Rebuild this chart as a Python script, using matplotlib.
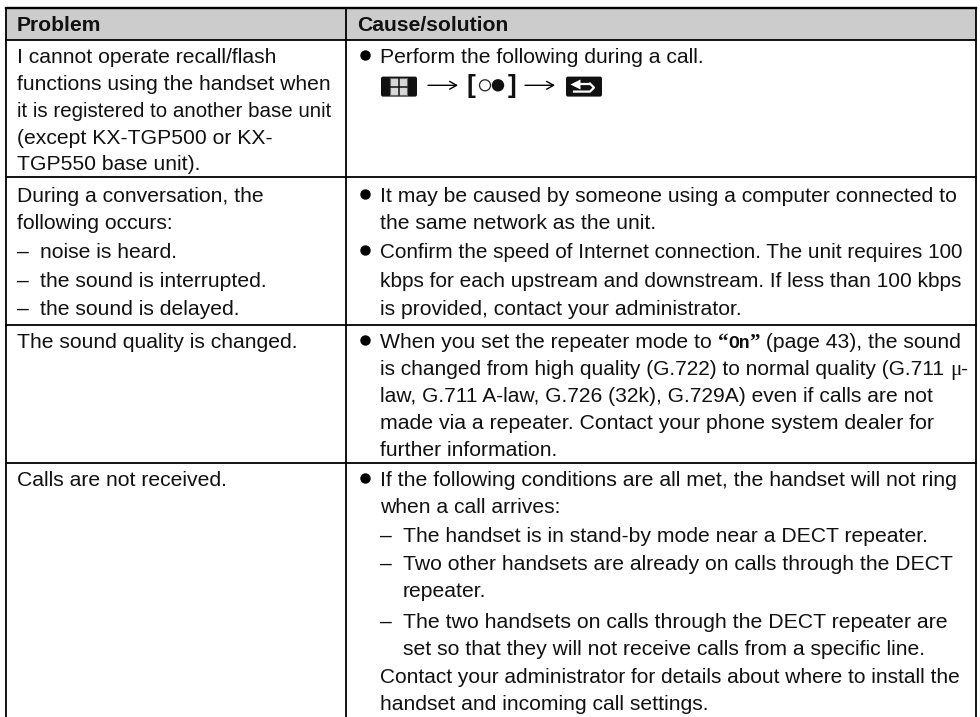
import matplotlib
matplotlib.use('Agg')
import matplotlib.pyplot as plt
from matplotlib.patches import Rectangle, FancyBboxPatch, Circle

FONT = 'Liberation Sans'
SIZE = 15.2

headers = ['Problem', 'Cause/solution']

# (dash?, text)
problem_lines = [
    [(False, 'I cannot operate recall/flash'), (False, 'functions using the handset when'),
     (False, 'it is registered to another base unit'), (False, '(except KX-TGP500 or KX-'),
     (False, 'TGP550 base unit).')],
    [(False, 'During a conversation, the'), (False, 'following occurs:'), (True, 'noise is heard.'),
     (True, 'the sound is interrupted.'), (True, 'the sound is delayed.')],
    [(False, 'The sound quality is changed.')],
    [(False, 'Calls are not received.')],
]
problem_y = [[63, 90, 117, 144, 170.5], [202, 229, 258, 287, 315], [348], [486]]

# kind: b = bullet, d = dash, i = wrapped list line, p = plain
solution_lines = [
    [('b', 'Perform the following during a call.')],
    [('b', 'It may be caused by someone using a computer connected to'),
     ('p', 'the same network as the unit.'),
     ('b', 'Confirm the speed of Internet connection. The unit requires 100'),
     ('p', 'kbps for each upstream and downstream. If less than 100 kbps'),
     ('p', 'is provided, contact your administrator.')],
    [('b', None),
     ('p', None),
     ('p', 'law, G.711 A-law, G.726 (32k), G.729A) even if calls are not'),
     ('p', 'made via a repeater. Contact your phone system dealer for'),
     ('p', 'further information.')],
    [('b', 'If the following conditions are all met, the handset will not ring'),
     ('p', 'when a call arrives:'),
     ('d', 'The handset is in stand-by mode near a DECT repeater.'),
     ('d', 'Two other handsets are already on calls through the DECT'),
     ('i', 'repeater.'),
     ('d', 'The two handsets on calls through the DECT repeater are'),
     ('i', 'set so that they will not receive calls from a specific line.'),
     ('p', 'Contact your administrator for details about where to install the'),
     ('p', 'handset and incoming call settings.')],
]
solution_y = [[63], [202, 229, 258, 287, 315], [348, 375, 402, 429, 456],
              [486, 513, 542, 570, 597, 628, 655, 683, 710]]
# right end of the longer lines, the original spacing varies a little
solution_end = [[None], [958, None, 962, 962, 743], [None, None, 935, 935, None],
                [957, None, 929, 955, None, 948, 927, 959, None]]
problem_end = [[None, None, 331, None, None], [None] * 5, [None], [None]]

rules = [39.5, 177, 324.5, 463]
COL_L, COL_M, COL_R = 6, 346, 976
TOP = 8

fig = plt.figure(figsize=(9.8, 7.17), dpi=100)
ax = fig.add_axes([0, 0, 1, 1])
ax.set_xlim(0, 980)
ax.set_ylim(717, 0)
ax.axis('off')

ax.add_patch(Rectangle((COL_L, TOP), COL_R - COL_L, 32, fc='#cccccc', ec='none', zorder=0))
ax.plot([COL_L, COL_R], [TOP, TOP], color='black', lw=1.7)
for y in rules:
    ax.plot([COL_L, COL_R], [y, y], color='black', lw=1.3)
for x in (COL_L, COL_M, COL_R):
    ax.plot([x, x], [TOP, 717], color='black', lw=1.3)

rend = fig.canvas.get_renderer()
inv = ax.transData.inverted()


def right_of(t):
    return inv.transform((t.get_window_extent(rend).x1, 0))[0]


def txt(x, y, s, end=None, **kw):
    kw.setdefault('family', FONT)
    kw.setdefault('fontsize', SIZE)
    kw.setdefault('color', '#111111')
    t = ax.text(x, y, s, va='baseline', ha='left', **kw)
    if end is not None:
        # scale the font so that the line stops where it does in the original
        t.set_fontsize(kw['fontsize'] * (end - x) / (right_of(t) - x))
    return t


def runs(x, y, parts):
    # draw text pieces one after the other, measuring each piece
    for s, kw in parts:
        x = right_of(txt(x, y, s, **kw))
    return x


def arrow(x0, x1, y):
    ax.annotate('', xy=(x1, y), xytext=(x0, y),
                arrowprops=dict(arrowstyle='->,head_length=0.5,head_width=0.28', color='black',
                                lw=1.0, shrinkA=0, shrinkB=0))


txt(17, 31, headers[0], fontweight='bold')
txt(357, 31, headers[1], fontweight='bold')

for lines, ys, ends in zip(problem_lines, problem_y, problem_end):
    for (dash, s), y, end in zip(lines, ys, ends):
        if dash:
            txt(17, y, '–')
            txt(39.5, y, s)
        else:
            txt(17, y, s, end=end)

for lines, ys, ends in zip(solution_lines, solution_y, solution_end):
    for (kind, s), y, end in zip(lines, ys, ends):
        if kind == 'b':
            ax.plot([365], [y - 8.5], 'o', ms=7.5, color='black', mec='none')
        if kind == 'd':
            txt(380, y, '–')
        if s is not None:
            txt(403 if kind in 'di' else 380, y, s, end=end)

# mixed font lines of the third row
y3 = solution_y[2][0]
x = runs(380, y3, [('When you set the repeater mode to ', {})])
runs(x, y3, [('“', {'family': 'Liberation Serif', 'fontweight': 'bold'}),
             ('On', {'family': 'Liberation Mono', 'fontweight': 'bold', 'fontsize': 13}),
             ('”', {'family': 'Liberation Serif', 'fontweight': 'bold'}),
             (' (page 43), the sound', {})])
runs(380, solution_y[2][1], [('is changed from high quality (G.722) to normal quality (G.711 ', {'fontsize': 15.0}),
                             ('μ', {'family': 'Liberation Serif'}), ('-', {})])

# key icons in the first row
cy = 85.3
by = cy + 1.3
ax.add_patch(FancyBboxPatch((382, by - 9), 34, 18, boxstyle='round,pad=1,rounding_size=2', fc='#111111', ec='none'))
ax.add_patch(Rectangle((390, by - 8.5), 17, 17, fc='#d8d8d8', ec='#666666', lw=0.8))
ax.plot([398.5, 398.5], [by - 8.5, by + 8.5], color='#111111', lw=1.1)
ax.plot([390, 407], [by, by], color='#111111', lw=1.1)
arrow(428, 458, cy)
txt(466, cy + 8, '[', fontweight='bold', fontsize=19)
ax.add_patch(Circle((485, cy), 5.5, fc='white', ec='#222222', lw=0.9))
ax.add_patch(Circle((498, cy), 6.2, fc='#111111', ec='none'))
txt(508, cy + 8, ']', fontweight='bold', fontsize=19)
arrow(525, 555, cy)
ax.add_patch(FancyBboxPatch((567, by - 9), 34, 18, boxstyle='round,pad=1,rounding_size=2', fc='#111111', ec='none'))
ax.plot([574, 590], [by - 3, by - 3], color='white', lw=1.6, solid_capstyle='butt')
ax.plot([590, 594, 590, 574], [by - 3, by + 1, by + 5, by + 5], color='white', lw=1.6)
ax.plot([575], [by - 3], '<', ms=7, color='white', mec='none')

fig.savefig('out.png', dpi=100)
